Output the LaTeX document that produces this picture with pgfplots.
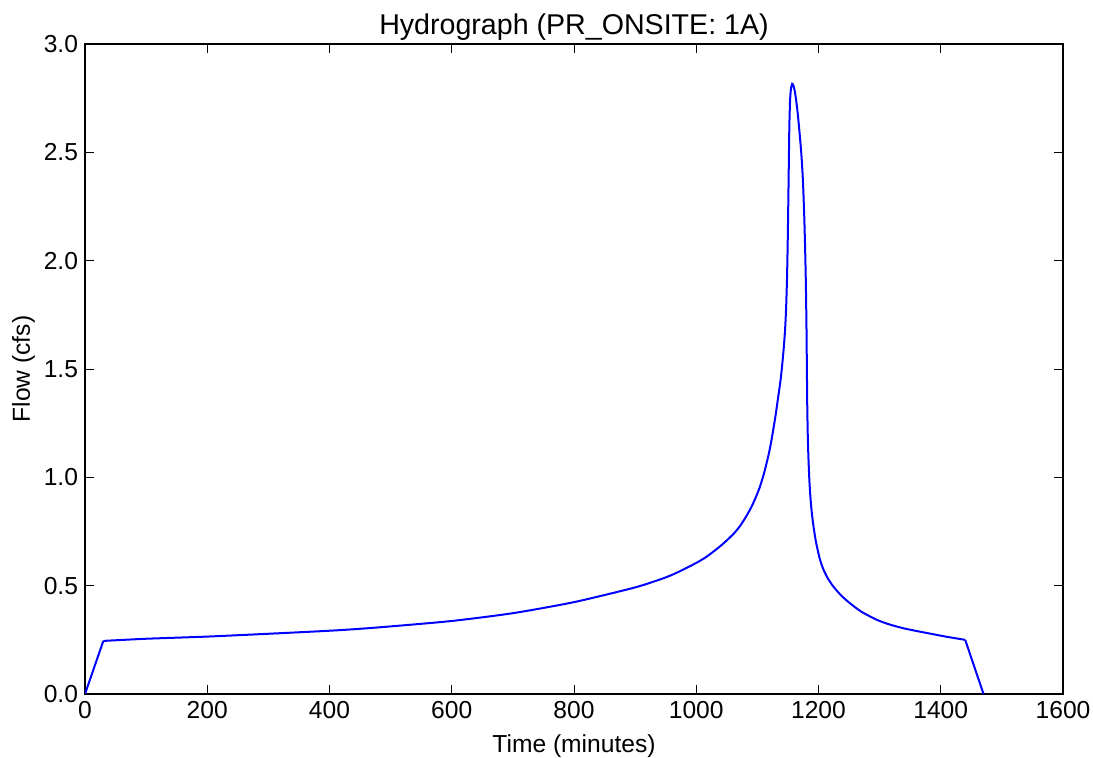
\documentclass[border=0pt]{standalone}
\usepackage{pgfplots}
\pgfplotsset{compat=1.18}
\usepackage{fontspec}
\setmainfont{Liberation Sans}
\begin{document}
\begin{tikzpicture}
\begin{axis}[
  scale only axis,
  width=489bp, height=325bp,
  xmin=0, xmax=1600, ymin=0, ymax=3.0,
  xtick={0,200,...,1600},
  ytick={0,0.5,...,3.0},
  tick align=inside,
  major tick length=4.5bp,
  tick style={black, line width=0.5bp},
  axis line style={black, line width=0.6bp},
  tick pos=both,
  /pgf/number format/assume math mode=true,
  yticklabel style={/pgf/number format/fixed, /pgf/number format/fixed zerofill, /pgf/number format/precision=1},
  xticklabel style={/pgf/number format/fixed, /pgf/number format/1000 sep={}},
  tick label style={font=\fontsize{12.3bp}{14bp}\selectfont},
  label style={font=\fontsize{12.3bp}{14bp}\selectfont},
  title style={font=\fontsize{14.3bp}{16bp}\selectfont, yshift=-7.5bp},
  title={Hydrograph (PR\_ONSITE: 1A)},
  xlabel={Time (minutes)},
  ylabel={Flow (cfs)},
  xlabel style={yshift=-1.5bp},
  ylabel style={yshift=-2.5bp},
]
\addplot[color={rgb,255:red,0;green,0;blue,255}, line width=1bp] coordinates {
(0,0) (30,0.245)
};
\addplot[color={rgb,255:red,0;green,0;blue,255}, line width=1bp, smooth, tension=0.4] coordinates {
(30,0.245) (100,0.255) (200,0.265) (300,0.278) (400,0.292) (450,0.301)
(500,0.312) (600,0.337) (700,0.373) (800,0.424) (900,0.492) (950,0.538)
(975,0.569) (1000,0.605) (1015,0.630) (1028,0.657) (1040,0.684) (1050,0.709)
(1062,0.742) (1072,0.777) (1082,0.821) (1090,0.862) (1097,0.905) (1104,0.955)
(1111,1.02) (1118,1.10) (1122,1.155) (1126,1.22) (1130,1.29) (1134,1.37)
(1138,1.45) (1141,1.53) (1143.5,1.61) (1145.5,1.69) (1147,1.78) (1148.5,1.92)
(1149.6,2.08) (1150.6,2.27) (1151.5,2.46) (1152.3,2.62) (1153.5,2.74)
(1155,2.795) (1157,2.816) (1159,2.808) (1161,2.785) (1163,2.75) (1166,2.68)
(1169,2.59) (1172,2.49) (1174.5,2.37) (1176.5,2.22) (1178,2.07) (1179.3,1.90)
(1180.3,1.70) (1181,1.50) (1181.6,1.33) (1182.4,1.20) (1183.4,1.10)
(1185,0.99) (1186.5,0.92) (1188.7,0.845) (1192,0.77) (1196,0.70) (1202,0.625)
(1208,0.575) (1215,0.535) (1224,0.497) (1237,0.455) (1251,0.42) (1270,0.38)
(1295,0.343) (1315,0.322) (1338,0.304) (1360,0.291) (1382,0.279) (1410,0.264)
(1440,0.25)
};
\addplot[color={rgb,255:red,0;green,0;blue,255}, line width=1bp] coordinates {
(1440,0.25) (1470,0)
};
\end{axis}
\pgfresetboundingbox
\path (current axis.south west) ++(-42.5bp,-32bp) coordinate (bbA);
\path (current axis.north east) ++(15bp,22bp) coordinate (bbB);
\useasboundingbox (bbA) rectangle (bbB);
\end{tikzpicture}
\end{document}
